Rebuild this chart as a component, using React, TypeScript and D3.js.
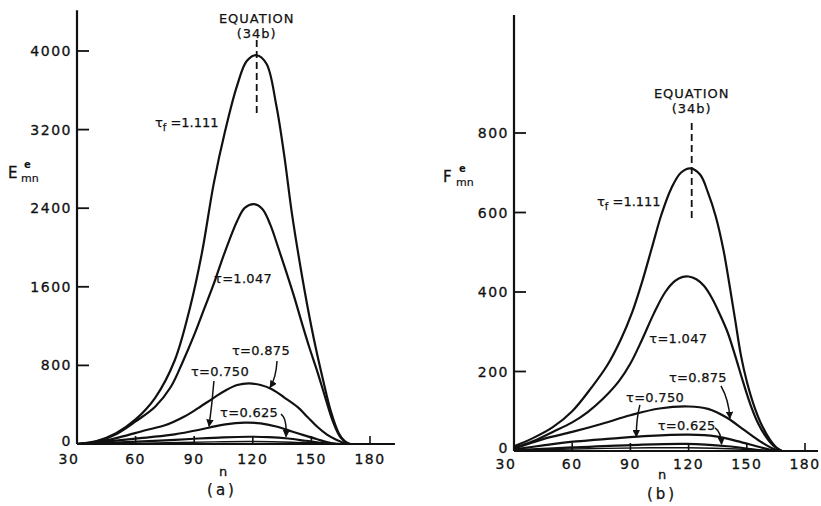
import React from "react";
import * as d3 from "d3";

// ---------- data (n, value) ----------
const nTicks = [30, 60, 90, 120, 150, 180];
const eTicks = [0, 800, 1600, 2400, 3200, 4000];
const fTicks = [0, 200, 400, 600, 800];

type P = [number, number];

// Panel (a): E_mn
const E_1111: P[] = [[30,0],[40,30],[50,110],[60,250],[70,470],[80,850],[88,1400],[94,1950],[100,2650],[106,3200],[112,3650],[117,3900],[122,3957],[127,3870],[132,3450],[136,2950],[140,2350],[144,1850],[148,1400],[152,1000],[156,650],[160,330],[164,110],[167,30],[170,0]];
const E_1047: P[] = [[30,0],[40,25],[50,100],[60,230],[70,380],[78,580],[84,830],[90,1110],[95,1370],[100,1630],[104,1860],[108,2075],[112,2270],[116,2405],[120.7,2441],[125,2390],[129,2230],[133,2000],[137,1760],[141,1510],[145,1240],[149,980],[153,740],[157,480],[161,230],[165,65],[169,0]];
const E_0875: P[] = [[30,0],[40,18],[52,70],[65,140],[75,190],[85,280],[92,365],[100,470],[106,545],[112,600],[118,617],[124,600],[130,555],[136,475],[143,375],[148,275],[153,175],[158,95],[163,40],[168,0]];
const E_0750: P[] = [[30,0],[45,25],[60,55],[78,92],[90,135],[98,168],[106,200],[116,217],[124,210],[132,178],[140,128],[146,90],[153,48],[160,10],[165,0]];
const E_0625: P[] = [[30,0],[45,10],[61,24],[75,37],[88,51],[105,68],[118,74],[128,70],[138,56],[147,33],[156,9],[163,0]];
const E_0500: P[] = [[45,0],[70,10],[100,22],[120,25],[140,18],[158,5],[166,0]];

// Panel (b): F_mn
const F_1111: P[] = [[30,12],[40,33],[50,60],[60,100],[70,160],[78,215],[85,280],[91,350],[96,425],[101,510],[106,595],[111,660],[116,700],[121,711],[126,695],[130,650],[134,590],[138,505],[141,420],[144,330],[147,240],[150,175],[154,110],[158,62],[162,28],[165,10],[168,0]];
const F_1047: P[] = [[30,8],[40,25],[50,48],[60,72],[68,98],[76,132],[84,175],[90,220],[96,280],[102,345],[108,400],[113,428],[117,438],[120,439],[124,432],[128,415],[132,385],[136,345],[140,300],[144,240],[148,175],[152,115],[156,68],[160,35],[164,12],[168,0]];
const F_0875: P[] = [[30,6],[45,30],[60,48],[75,68],[90,90],[105,107],[120,112],[130,106],[140,83],[148,55],[156,27],[163,7],[168,0]];
const F_0750: P[] = [[30,4],[45,14],[62,24],[80,31],[100,38],[120,41],[134,37],[145,25],[155,12],[162,3],[166,0]];
const F_0625: P[] = [[30,2],[60,9],[90,15],[119,18],[140,12],[152,5],[160,0]];
const F_0500: P[] = [[30,1],[60,5],[100,8],[120,8],[145,5],[165,0]];

const eSeries = [E_1111, E_1047, E_0875, E_0750, E_0625, E_0500];
const fSeries = [F_1111, F_1047, F_0875, F_0750, F_0625, F_0500];

// annotations (data coordinates)
type Lab = { t: string; at: P };
const eLabels: Lab[] = [
  { t: "τ=1.047", at: [115, 1686] },
  { t: "τ=0.875", at: [124.2, 957] },
  { t: "τ=0.750", at: [103.2, 736] },
  { t: "τ=0.625", at: [118.1, 323] },
];
const fLabels: Lab[] = [
  { t: "τ=1.047", at: [114.7, 284] },
  { t: "τ=0.875", at: [124.8, 185] },
  { t: "τ=0.750", at: [102.7, 136] },
  { t: "τ=0.625", at: [119.0, 64] },
];
const eArrows: P[][] = [
  [[132.4, 845], [131.9, 672], [128.8, 575]],
  [[100.1, 641], [99.1, 397], [97.6, 180]],
  [[134.4, 305], [137.5, 265], [137.0, 75]],
];
const fArrows: P[][] = [
  [[136.7, 164], [140.8, 128], [141.3, 82]],
  [[94.9, 116], [92.9, 78], [93.1, 36]],
  [[133.6, 58], [136.7, 48], [137.0, 17]],
];

const FONT = "'DejaVu Sans', 'Liberation Sans', sans-serif";

type PanelProps = {
  series: P[][];
  yTicks: number[];
  xr: [number, number];
  yr: [number, number];
  yDom: number;
  xEnd: number;
  yTop: number;
  labels: Lab[];
  arrows: P[][];
  tauF: P;
  eq: P;
  dash: [number, number, number];
  letter: string;
  yLabelPos: [number, number];
  nPos: [number, number];
  capPos: [number, number];
  cap: string;
  xLabelDy: number;
};

function Panel(p: PanelProps) {
  const x = d3.scaleLinear().domain([30, 180]).range(p.xr);
  const y = d3.scaleLinear().domain([0, p.yDom]).range(p.yr);
  const line = d3
    .line<P>()
    .x((d) => x(d[0]))
    .y((d) => y(d[1]))
    .curve(d3.curveCatmullRom.alpha(0.5));
  const x0 = x(30);
  const y0 = y(0);
  return (
    <g fontFamily={FONT} fill="#111">
      {/* axes */}
      <line x1={x0} x2={x0} y1={y(p.yTop)} y2={y0} stroke="#111" strokeWidth={2.2} />
      <line x1={x0} x2={x(p.xEnd)} y1={y0} y2={y0} stroke="#111" strokeWidth={2} />
      {p.yTicks.map((t) => (
        <g key={"y" + t}>
          {t > 0 && <line x1={x0} x2={x0 + 12} y1={y(t)} y2={y(t)} stroke="#111" strokeWidth={1.8} />}
          <text x={x0 - 5} y={y(t) - (t === 0 ? 3 : 0)} dy="0.36em" textAnchor="end" fontSize={14} letterSpacing={1.5} stroke="#111" strokeWidth={0.3}>
            {t}
          </text>
        </g>
      ))}
      {nTicks.map((t, i) => (
        <g key={"x" + t}>
          {i > 0 && <line x1={x(t)} x2={x(t)} y1={y0} y2={y0 - 8} stroke="#111" strokeWidth={1.6} />}
          <text x={x(t) - (i === 0 ? 8 : 0)} y={y0 + p.xLabelDy} dy="0.36em" textAnchor="middle" fontSize={14} letterSpacing={1.5} stroke="#111" strokeWidth={0.3}>
            {t}
          </text>
        </g>
      ))}
      {/* curves */}
      {p.series.map((s, i) => (
        <path key={i} d={line(s) || ""} fill="none" stroke="#111" strokeWidth={i < 5 ? 2.2 : 1.4} />
      ))}
      {/* equation marker */}
      <line x1={x(p.dash[0])} x2={x(p.dash[0])} y1={y(p.dash[1])} y2={y(p.dash[2])} stroke="#111" strokeWidth={1.8} strokeDasharray="7,4" />
      <text x={x(p.eq[0])} y={y(p.eq[1])} dy="0.36em" textAnchor="middle" fontSize={13} letterSpacing={1} stroke="#111" strokeWidth={0.25}>
        EQUATION
      </text>
      <text x={x(p.eq[0])} y={y(p.eq[1])} dy="1.5em" textAnchor="middle" fontSize={13} letterSpacing={1} stroke="#111" strokeWidth={0.25}>
        (34b)
      </text>
      {/* tau_f label */}
      <text x={x(p.tauF[0])} y={y(p.tauF[1])} dy="0.36em" fontSize={13} stroke="#111" strokeWidth={0.25}>
        <tspan>τ</tspan>
        <tspan dy={4} fontSize={10}>f</tspan>
        <tspan dy={-4}> =1.111</tspan>
      </text>
      {p.labels.map((l, i) => (
        <text key={"l" + i} x={x(l.at[0])} y={y(l.at[1])} dy="0.36em" textAnchor="middle" fontSize={13} letterSpacing={0.3} stroke="#111" strokeWidth={0.25}>
          {l.t}
        </text>
      ))}
      {p.arrows.map((a, i) => (
        <path
          key={"a" + i}
          d={`M${x(a[0][0])},${y(a[0][1])} Q${x(a[1][0])},${y(a[1][1])} ${x(a[2][0])},${y(a[2][1])}`}
          fill="none"
          stroke="#111"
          strokeWidth={1.5}
          markerEnd="url(#arrowHead)"
        />
      ))}
      {/* axis titles */}
      <text x={p.yLabelPos[0]} y={p.yLabelPos[1]} fontSize={15} stroke="#111" strokeWidth={0.3}>
        {p.letter}
      </text>
      <text x={p.yLabelPos[0] + 13} y={p.yLabelPos[1] + 4} fontSize={11} stroke="#111" strokeWidth={0.2}>
        mn
      </text>
      <text x={p.yLabelPos[0] + 16} y={p.yLabelPos[1] - 10} fontSize={10} fontWeight="bold">
        e
      </text>
      <text x={p.nPos[0]} y={p.nPos[1]} dy="0.36em" textAnchor="middle" fontSize={13} stroke="#111" strokeWidth={0.3}>
        n
      </text>
      <text x={p.capPos[0]} y={p.capPos[1]} dy="0.36em" textAnchor="middle" fontSize={15} letterSpacing={3} stroke="#111" strokeWidth={0.25}>
        {p.cap}
      </text>
    </g>
  );
}

export default function App() {
  return (
    <svg width={821} height={506} style={{ position: "absolute", left: 0, top: 0, background: "#fff" }}>
      <defs>
        <marker id="arrowHead" viewBox="0 0 10 10" refX="9" refY="5" markerWidth="5" markerHeight="5" orient="auto" markerUnits="strokeWidth">
          <path d="M0,0 L10,5 L0,10 z" fill="#111" />
        </marker>
      </defs>
      <rect width={821} height={506} fill="#fff" />
      <Panel
        series={eSeries}
        yTicks={eTicks}
        xr={[77, 370]}
        yr={[444, 51]}
        yDom={4000}
        xEnd={192.8}
        yTop={4415}
        labels={eLabels}
        arrows={eArrows}
        tauF={[69.9, 3270]}
        eq={[122, 4333]}
        dash={[122, 4112, 3369]}
        letter="E"
        yLabelPos={[8, 178]}
        nPos={[223, 471]}
        capPos={[222, 490]}
        cap="(a)"
        xLabelDy={15}
      />
      <Panel
        series={fSeries}
        yTicks={fTicks}
        xr={[514, 805]}
        yr={[451, 133]}
        yDom={800}
        xEnd={186.7}
        yTop={1097}
        labels={fLabels}
        arrows={fArrows}
        tauF={[72.8, 627]}
        eq={[121.6, 900]}
        dash={[121.6, 825, 576]}
        letter="F"
        yLabelPos={[443, 182]}
        nPos={[662, 474]}
        capPos={[662, 494]}
        cap="(b)"
        xLabelDy={13}
      />
    </svg>
  );
}
